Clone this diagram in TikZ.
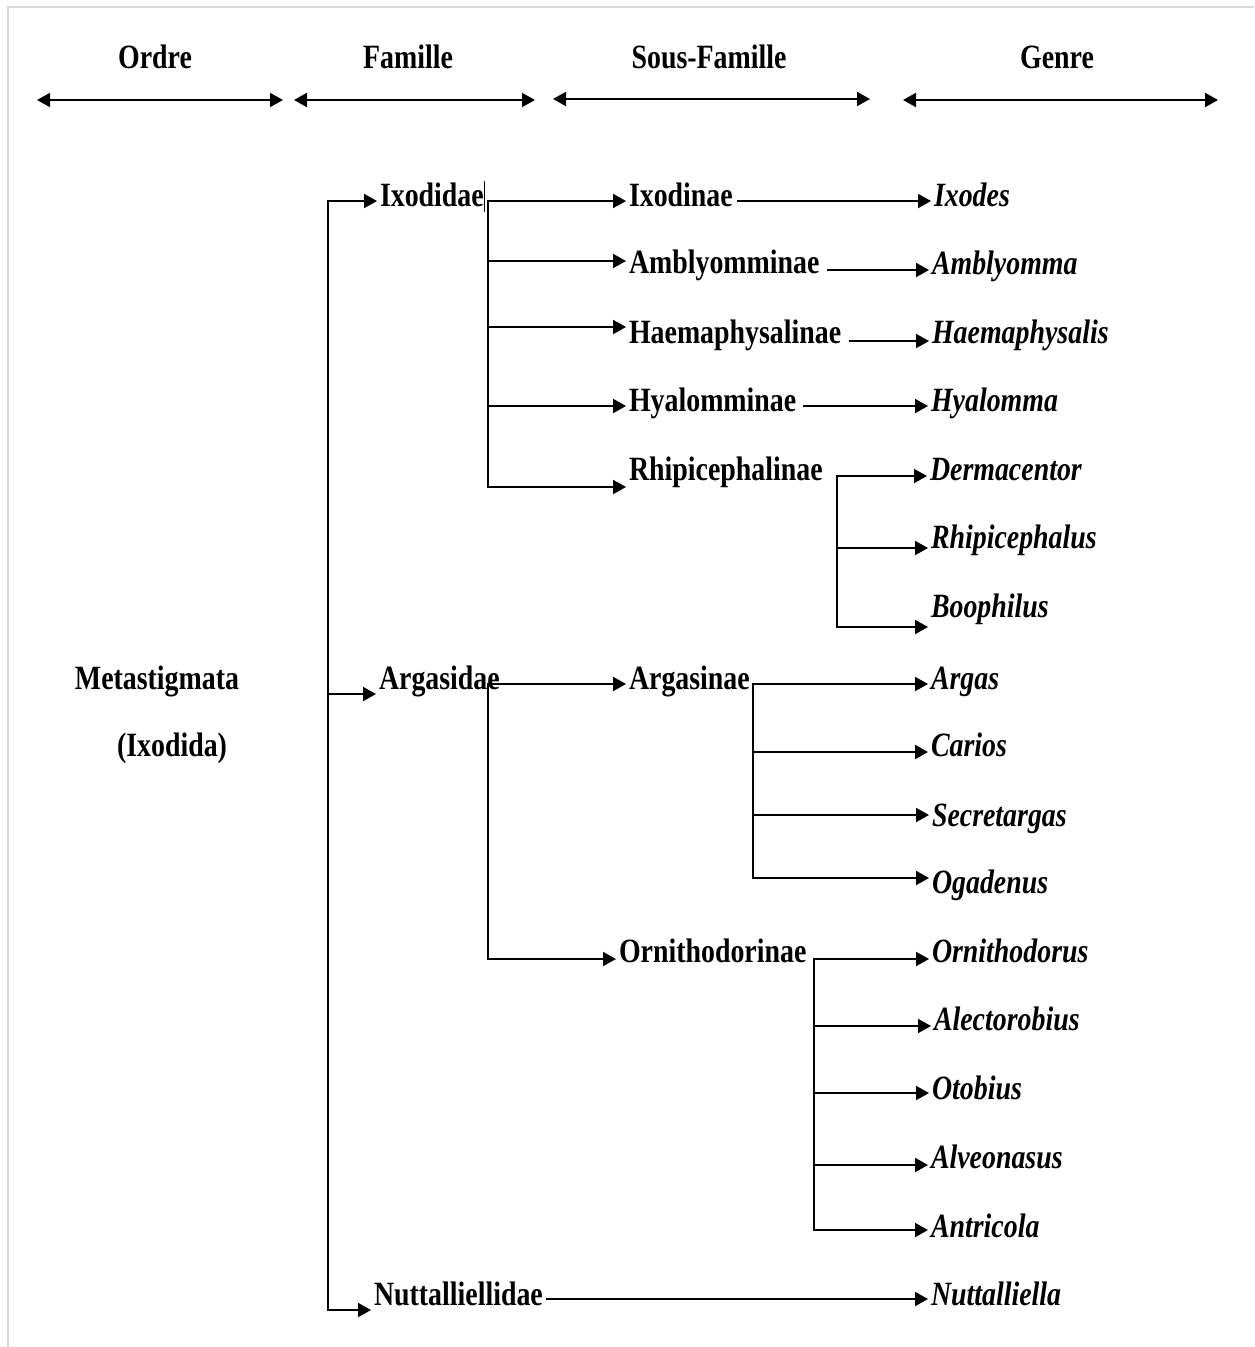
\documentclass[tikz,border=0pt]{standalone}
\usepackage{fontspec}
\setmainfont{Liberation Serif}[FakeStretch=0.82]
\usetikzlibrary{arrows.meta}

\tikzset{
    txt/.style = {font=\fontsize{34}{40}\selectfont\bfseries, inner sep=2pt, text height=22pt, text depth=0pt},
    fam/.style = {txt, anchor=west},
    gen/.style = {txt, anchor=west, font=\fontsize{34}{40}\selectfont\bfseries\itshape},
    arr/.style = {->, >={Triangle[length=13pt,width=14pt]}},
    dbl/.style = {<->, >={Triangle[length=13pt,width=14pt]}}
}

\begin{document}
\begin{tikzpicture}[x=1pt, y=-1pt, line width=2pt]
        \useasboundingbox (0,0) rectangle (1254,1347);
        \draw[gray!30, line width=1.2pt] (8,1347) -- (8,7) -- (1254,7);

        % en-tetes
        \node[txt] (ordre) at (155,57) {Ordre};
        \node[txt] (famille) at (408,57) {Famille};
        \node[txt] (sousfam) at (709,57) {Sous-Famille};
        \node[txt] (genre) at (1057,57) {Genre};
        \coordinate (o1) at (37,100);  \coordinate (o2) at (283,100);
        \coordinate (f1) at (294,100); \coordinate (f2) at (535,100);
        \coordinate (s1) at (553,99);  \coordinate (s2) at (870,99);
        \coordinate (g1) at (903,100); \coordinate (g2) at (1218,100);
        \draw[dbl] (o1) -- (o2);
        \draw[dbl] (f1) -- (f2);
        \draw[dbl] (s1) -- (s2);
        \draw[dbl] (g1) -- (g2);

        % ordre
        \node[txt] (metast) at (157,678) {Metastigmata};
        \node[txt] (ixodida) at (172,745) {(Ixodida)};

        % familles
        \node[fam] (ixodidae) at (377,195) {Ixodidae};
        \node[fam] (argasidae) at (376,678) {Argasidae};
        \node[fam] (nuttidae) at (371,1294) {Nuttalliellidae};
        \draw[line width=1pt] (484,181) -- (484,212);

        \coordinate (t1) at (328,201);
        \coordinate (t2) at (328,694);
        \coordinate (t3) at (328,1310);
        \draw[arr] (t2) -- (t1) -- (t1 -| ixodidae.west);
        \draw[arr] (t2) -- (t2 -| argasidae.west);
        \draw[arr] (t2) -- (t3) -- (t3 -| nuttidae.west);

        % sous-familles
        \node[fam] (ixodinae) at (626,195) {Ixodinae};
        \node[fam] (amblyo) at (626,262) {Amblyomminae};
        \node[fam] (haema) at (626,332) {Haemaphysalinae};
        \node[fam] (hyalo) at (626,400) {Hyalomminae};
        \node[fam] (rhipi) at (626,469) {Rhipicephalinae};
        \node[fam] (argasinae) at (626,678) {Argasinae};
        \node[fam] (ornithinae) at (616,951) {Ornithodorinae};

        \coordinate (i1) at (488,201);
        \coordinate (i2) at (488,261);
        \coordinate (i3) at (488,327);
        \coordinate (i4) at (488,406);
        \coordinate (i5) at (488,487);
        \draw[arr] (i5) -- (i1) -- (i1 -| ixodinae.west);
        \draw[arr] (i2) -- (i2 -| amblyo.west);
        \draw[arr] (i3) -- (i3 -| haema.west);
        \draw[arr] (i4) -- (i4 -| hyalo.west);
        \draw[arr] (i1) -- (i5) -- (i5 -| rhipi.west);

        \coordinate (a1) at (488,684);
        \coordinate (a2) at (488,959);
        \draw[arr] (a2) -- (a1) -- (a1 -| argasinae.west);
        \draw[arr] (a1) -- (a2) -- (a2 -| ornithinae.west);

        % genres
        \node[gen] (ixodes) at (931,195) {Ixodes};
        \node[gen] (amblyomma) at (929,263) {Amblyomma};
        \node[gen] (haemaph) at (929,332) {Haemaphysalis};
        \node[gen] (hyalomma) at (928,400) {Hyalomma};
        \node[gen] (dermac) at (927,469) {Dermacentor};
        \node[gen] (rhipiceph) at (928,537) {Rhipicephalus};
        \node[gen] (boophilus) at (928,606) {Boophilus};
        \node[gen] (argas) at (928,678) {Argas};
        \node[gen] (carios) at (928,745) {Carios};
        \node[gen] (secret) at (929,815) {Secretargas};
        \node[gen] (ogadenus) at (929,882) {Ogadenus};
        \node[gen] (ornithorus) at (929,951) {Ornithodorus};
        \node[gen] (alecto) at (931,1019) {Alectorobius};
        \node[gen] (otobius) at (929,1088) {Otobius};
        \node[gen] (alveo) at (928,1157) {Alveonasus};
        \node[gen] (antricola) at (928,1226) {Antricola};
        \node[gen] (nuttiella) at (928,1294) {Nuttalliella};

        \coordinate (x1) at (737,201);
        \coordinate (x2) at (827,270);
        \coordinate (x3) at (849,341);
        \coordinate (x4) at (803,406);
        \draw[arr] (x1) -- (x1 -| ixodes.west);
        \draw[arr] (x2) -- (x2 -| amblyomma.west);
        \draw[arr] (x3) -- (x3 -| haemaph.west);
        \draw[arr] (x4) -- (x4 -| hyalomma.west);

        \coordinate (r1) at (837,476);
        \coordinate (r2) at (837,548);
        \coordinate (r3) at (837,627);
        \draw[arr] (r3) -- (r1) -- (r1 -| dermac.west);
        \draw[arr] (r2) -- (r2 -| rhipiceph.west);
        \draw[arr] (r1) -- (r3) -- (r3 -| boophilus.west);

        \coordinate (g1) at (753,684);
        \coordinate (g2) at (753,752);
        \coordinate (g3) at (753,815);
        \coordinate (g4) at (753,878);
        \draw[arr] (g4) -- (g1) -- (g1 -| argas.west);
        \draw[arr] (g2) -- (g2 -| carios.west);
        \draw[arr] (g3) -- (g3 -| secret.west);
        \draw[arr] (g1) -- (g4) -- (g4 -| ogadenus.west);

        \coordinate (h1) at (814,959);
        \coordinate (h2) at (814,1026);
        \coordinate (h3) at (814,1093);
        \coordinate (h4) at (814,1165);
        \coordinate (h5) at (814,1230);
        \draw[arr] (h5) -- (h1) -- (h1 -| ornithorus.west);
        \draw[arr] (h2) -- (h2 -| alecto.west);
        \draw[arr] (h3) -- (h3 -| otobius.west);
        \draw[arr] (h4) -- (h4 -| alveo.west);
        \draw[arr] (h1) -- (h5) -- (h5 -| antricola.west);

        \coordinate (n1) at (546,1299);
        \draw[arr] (n1) -- (n1 -| nuttiella.west);
    \end{tikzpicture}
\end{document}
